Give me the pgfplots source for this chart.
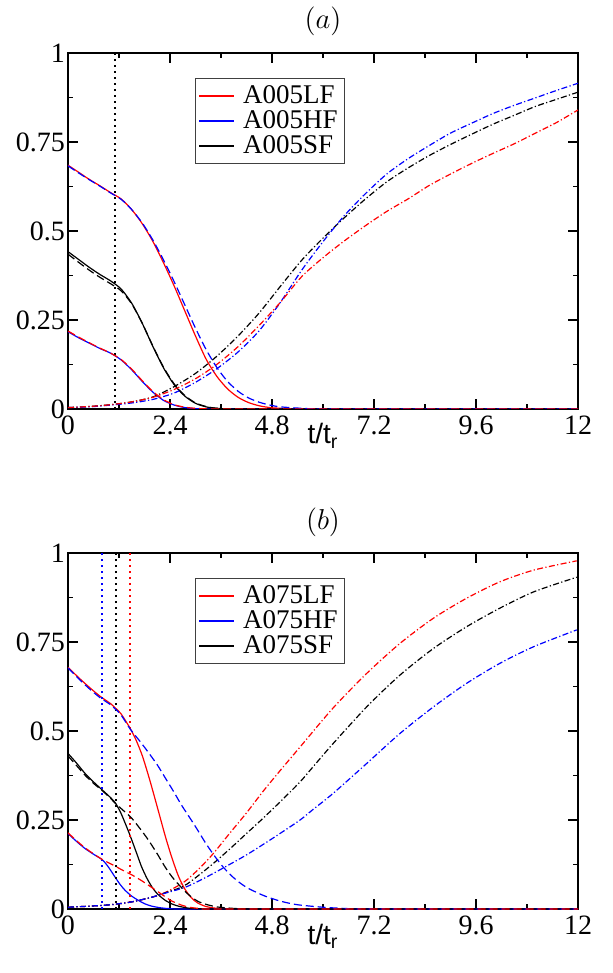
\documentclass[border=0pt]{standalone}
\usepackage{fontspec}
\setmainfont{Liberation Serif}
\setsansfont{Liberation Sans}
\usepackage{pgfplots}
\pgfplotsset{compat=1.18}

\pgfplotsset{
  panel/.style={
    scale only axis, width=255pt, height=178pt,
    anchor=south west,
    xmin=0, xmax=12, ymin=0, ymax=1,
    xtick={0,2.4,4.8,7.2,9.6,12},
    ytick={0,0.25,0.5,0.75,1},
    minor x tick num=1, minor y tick num=1,
    tick align=inside,
    major tick length=5pt, minor tick length=2.5pt,
    axis line style={line width=1pt},
    every tick/.style={black, line width=0.6pt},
    tick label style={font=\fontsize{14}{14}\selectfont},
    yticklabel style={xshift=2pt},
    /pgf/number format/assume math mode=true,
    title style={anchor=base, yshift=6pt, font=\fontsize{14}{14}\selectfont},
    xlabel style={at={(axis description cs:0.5,0)}, anchor=base, yshift=-17.5pt,
      font=\sffamily\fontsize{14}{14}\selectfont},
    xlabel={t/t\textsubscript{r}},
    legend style={at={(0.249,0.93)}, anchor=north west,
      draw=black!75, line width=0.6pt,
      font=\fontsize{13.5}{12.5}\selectfont,
      inner sep=1.5pt, column sep=2.2pt, row sep=-2pt},
    legend cell align=left,
    legend image code/.code={\draw[##1] (0pt,0pt) -- (17.5pt,0pt);},
  },
  cur/.style={line width=0.6pt, smooth, tension=0.45},
  dsh/.style={dash pattern=on 4pt off 2pt},
  dd/.style={dash pattern=on 3pt off 1.2pt on 0.6pt off 1.2pt},
  vmark/.style={line width=1pt, dash pattern=on 1pt off 2pt},
}

\begin{document}
\begin{tikzpicture}
\path[use as bounding box] (-34pt,-282pt) rectangle (272pt,204.5pt);

% ---------------- panel (a) ----------------
\begin{axis}[panel, at={(0pt,0pt)}, title={$(a)$}]
\addplot[cur, red] coordinates {(0,0.685)(0.25,0.665)(0.5,0.645)(0.75,0.627)(1.0,0.608)(1.25,0.59)(1.5,0.56)(1.75,0.52)(2.0,0.47)(2.25,0.41)(2.5,0.345)(2.75,0.275)(3.0,0.205)(3.25,0.14)(3.5,0.092)(3.75,0.057)(4.0,0.033)(4.25,0.018)(4.5,0.009)(4.75,0.004)(5.0,0.002)(5.5,0)(8,0)(12,0)};
\addplot[cur, blue] coordinates {(0,0.217)(0.25,0.2)(0.5,0.185)(0.75,0.17)(1.0,0.157)(1.25,0.138)(1.5,0.11)(1.75,0.077)(2.0,0.047)(2.25,0.024)(2.5,0.011)(2.75,0.004)(3.0,0.001)(3.5,0)(6,0)(12,0)};
\addplot[cur, black] coordinates {(0,0.442)(0.25,0.42)(0.5,0.398)(0.75,0.378)(1.0,0.36)(1.25,0.337)(1.5,0.297)(1.75,0.24)(2.0,0.175)(2.25,0.115)(2.5,0.068)(2.75,0.036)(3.0,0.016)(3.25,0.006)(3.5,0.002)(4,0)(6,0)(12,0)};
\legend{A005LF\hspace{8pt}, A005HF\hspace{8pt}, A005SF\hspace{8pt}}

\addplot[vmark, black, forget plot] coordinates {(1.1,0) (1.1,1)};

% rising fractions
\addplot[cur, dd, black, forget plot] coordinates {(0,0.004)(0.5,0.007)(1.0,0.012)(1.5,0.02)(2.0,0.034)(2.5,0.063)(3.0,0.1)(3.5,0.148)(4.0,0.205)(4.5,0.27)(5.0,0.345)(5.5,0.418)(6.0,0.48)(6.5,0.537)(7.0,0.59)(7.5,0.638)(8.0,0.677)(8.5,0.712)(9.0,0.743)(9.5,0.772)(10.0,0.8)(10.5,0.825)(11.0,0.85)(11.5,0.87)(12,0.89)};
\addplot[cur, dd, blue, forget plot] coordinates {(0,0.004)(0.5,0.006)(1.0,0.011)(1.5,0.017)(2.0,0.027)(2.5,0.045)(3.0,0.075)(3.5,0.113)(4.0,0.16)(4.5,0.22)(5.0,0.3)(5.5,0.39)(6.0,0.47)(6.5,0.543)(7.0,0.605)(7.5,0.66)(8.0,0.703)(8.5,0.74)(9.0,0.775)(9.5,0.803)(10.0,0.83)(10.5,0.853)(11.0,0.874)(11.5,0.895)(12,0.915)};
\addplot[cur, dd, red, forget plot] coordinates {(0,0.004)(0.5,0.007)(1.0,0.012)(1.5,0.02)(2.0,0.033)(2.5,0.055)(3.0,0.085)(3.5,0.125)(4.0,0.175)(4.5,0.235)(5.0,0.3)(5.5,0.372)(6.0,0.425)(6.5,0.472)(7.0,0.515)(7.5,0.555)(8.0,0.59)(8.5,0.628)(9.0,0.66)(9.5,0.69)(10.0,0.718)(10.5,0.745)(11.0,0.775)(11.5,0.805)(12,0.84)};

% dashed companions
\addplot[cur, dsh, black, forget plot] coordinates {(0,0.435)(0.25,0.412)(0.5,0.39)(0.75,0.37)(1.0,0.352)(1.25,0.332)(1.5,0.295)(1.75,0.24)(2.0,0.176)(2.25,0.117)(2.5,0.07)(2.75,0.038)(3.0,0.017)(3.25,0.007)(3.5,0.002)(4,0)(6,0)(12,0)};
\addplot[cur, dsh, blue, forget plot] coordinates {(0,0.683)(0.25,0.663)(0.5,0.644)(0.75,0.626)(1.0,0.607)(1.25,0.589)(1.5,0.56)(1.75,0.522)(2.0,0.474)(2.25,0.418)(2.5,0.357)(2.75,0.292)(3.0,0.227)(3.25,0.167)(3.5,0.117)(3.75,0.078)(4.0,0.05)(4.25,0.031)(4.5,0.019)(4.75,0.011)(5.0,0.006)(5.5,0.002)(6,0)(8,0)(12,0)};
\addplot[cur, dsh, red, forget plot] coordinates {(0,0.219)(0.25,0.202)(0.5,0.186)(0.75,0.171)(1.0,0.157)(1.25,0.139)(1.5,0.112)(1.75,0.079)(2.0,0.049)(2.25,0.026)(2.5,0.012)(2.75,0.005)(3.0,0.002)(3.5,0)(6,0)(12,0)};
\end{axis}

% ---------------- panel (b) ----------------
\begin{axis}[panel, at={(0pt,-250pt)}, title={$(b)$}]
\addplot[cur, red] coordinates {(0,0.679)(0.25,0.65)(0.5,0.623)(0.75,0.598)(1.0,0.577)(1.12,0.564)(1.25,0.548)(1.46,0.508)(1.6,0.475)(1.75,0.43)(1.9,0.372)(2.0,0.33)(2.15,0.265)(2.3,0.2)(2.45,0.142)(2.6,0.092)(2.75,0.056)(2.9,0.032)(3.05,0.017)(3.25,0.007)(3.5,0.002)(4,0)(6,0)(12,0)};
\addplot[cur, blue] coordinates {(0,0.212)(0.2,0.19)(0.4,0.17)(0.6,0.154)(0.81,0.138)(0.95,0.118)(1.1,0.091)(1.22,0.07)(1.34,0.053)(1.5,0.036)(1.66,0.024)(1.8,0.015)(1.97,0.008)(2.2,0.003)(2.4,0.001)(2.8,0)(6,0)(12,0)};
\addplot[cur, black] coordinates {(0,0.437)(0.2,0.41)(0.4,0.381)(0.6,0.357)(0.81,0.334)(1.0,0.313)(1.12,0.297)(1.25,0.268)(1.4,0.225)(1.5,0.194)(1.62,0.155)(1.73,0.119)(1.85,0.088)(1.97,0.063)(2.1,0.043)(2.28,0.025)(2.45,0.014)(2.6,0.008)(2.8,0.003)(3.0,0.001)(3.5,0)(6,0)(12,0)};
\legend{A075LF\hspace{8pt}, A075HF\hspace{8pt}, A075SF\hspace{8pt}}

\addplot[vmark, blue, forget plot] coordinates {(0.81,0) (0.81,1)};
\addplot[vmark, black, forget plot] coordinates {(1.12,0) (1.12,1)};
\addplot[vmark, red, forget plot] coordinates {(1.46,0) (1.46,1)};

% rising fractions
\addplot[cur, dd, red, forget plot] coordinates {(0,0.005)(0.5,0.008)(1.0,0.012)(1.5,0.02)(2.0,0.034)(2.3,0.047)(2.6,0.066)(2.8,0.082)(3.1,0.115)(3.42,0.156)(3.8,0.212)(4.2,0.27)(4.6,0.332)(5.0,0.39)(5.46,0.455)(6.24,0.565)(7.03,0.662)(7.81,0.746)(8.6,0.817)(9.38,0.873)(10.16,0.919)(10.96,0.952)(11.97,0.978)};
\addplot[cur, dd, black, forget plot] coordinates {(0,0.005)(0.5,0.008)(1.0,0.012)(1.5,0.02)(2.0,0.034)(2.3,0.046)(2.6,0.058)(2.8,0.07)(3.1,0.097)(3.42,0.128)(3.8,0.168)(4.2,0.212)(4.6,0.256)(5.0,0.302)(5.46,0.357)(5.77,0.4)(6.24,0.465)(7.03,0.568)(7.81,0.657)(8.6,0.732)(9.38,0.793)(10.16,0.845)(10.96,0.891)(11.97,0.932)};
\addplot[cur, dd, blue, forget plot] coordinates {(0,0.005)(0.5,0.008)(1.0,0.012)(1.5,0.02)(2.0,0.034)(2.3,0.045)(2.6,0.055)(2.8,0.063)(3.1,0.08)(3.42,0.1)(3.8,0.125)(4.2,0.152)(4.6,0.182)(5.0,0.213)(5.46,0.25)(5.77,0.28)(6.24,0.325)(7.03,0.409)(7.81,0.493)(8.6,0.568)(9.38,0.634)(10.16,0.69)(10.96,0.737)(11.97,0.784)};

% dashed companions
\addplot[cur, dsh, blue, forget plot] coordinates {(0,0.677)(0.25,0.647)(0.5,0.619)(0.75,0.594)(1.0,0.574)(1.12,0.561)(1.25,0.545)(1.46,0.506)(1.7,0.47)(1.89,0.44)(2.1,0.405)(2.28,0.37)(2.5,0.327)(2.67,0.292)(2.9,0.25)(3.07,0.218)(3.25,0.183)(3.46,0.147)(3.65,0.118)(3.85,0.093)(4.05,0.073)(4.24,0.058)(4.45,0.046)(4.64,0.036)(5.0,0.022)(5.4,0.012)(6.0,0.005)(6.6,0.001)(7,0)(9,0)(12,0)};
\addplot[cur, dsh, black, forget plot] coordinates {(0,0.43)(0.2,0.403)(0.4,0.376)(0.6,0.353)(0.81,0.332)(1.0,0.311)(1.12,0.296)(1.3,0.277)(1.5,0.255)(1.7,0.225)(1.89,0.194)(2.1,0.155)(2.28,0.119)(2.45,0.09)(2.67,0.06)(2.85,0.039)(3.05,0.022)(3.25,0.013)(3.5,0.006)(3.75,0.003)(4.0,0.001)(4.5,0)(6,0)(12,0)};
\addplot[cur, dsh, red, forget plot] coordinates {(0,0.214)(0.2,0.192)(0.4,0.172)(0.6,0.155)(0.81,0.139)(1.1,0.121)(1.3,0.108)(1.5,0.096)(1.7,0.082)(1.89,0.067)(2.1,0.05)(2.28,0.035)(2.45,0.022)(2.67,0.011)(2.85,0.005)(3.05,0.002)(3.3,0)(6,0)(12,0)};
\end{axis}
\end{tikzpicture}
\end{document}
